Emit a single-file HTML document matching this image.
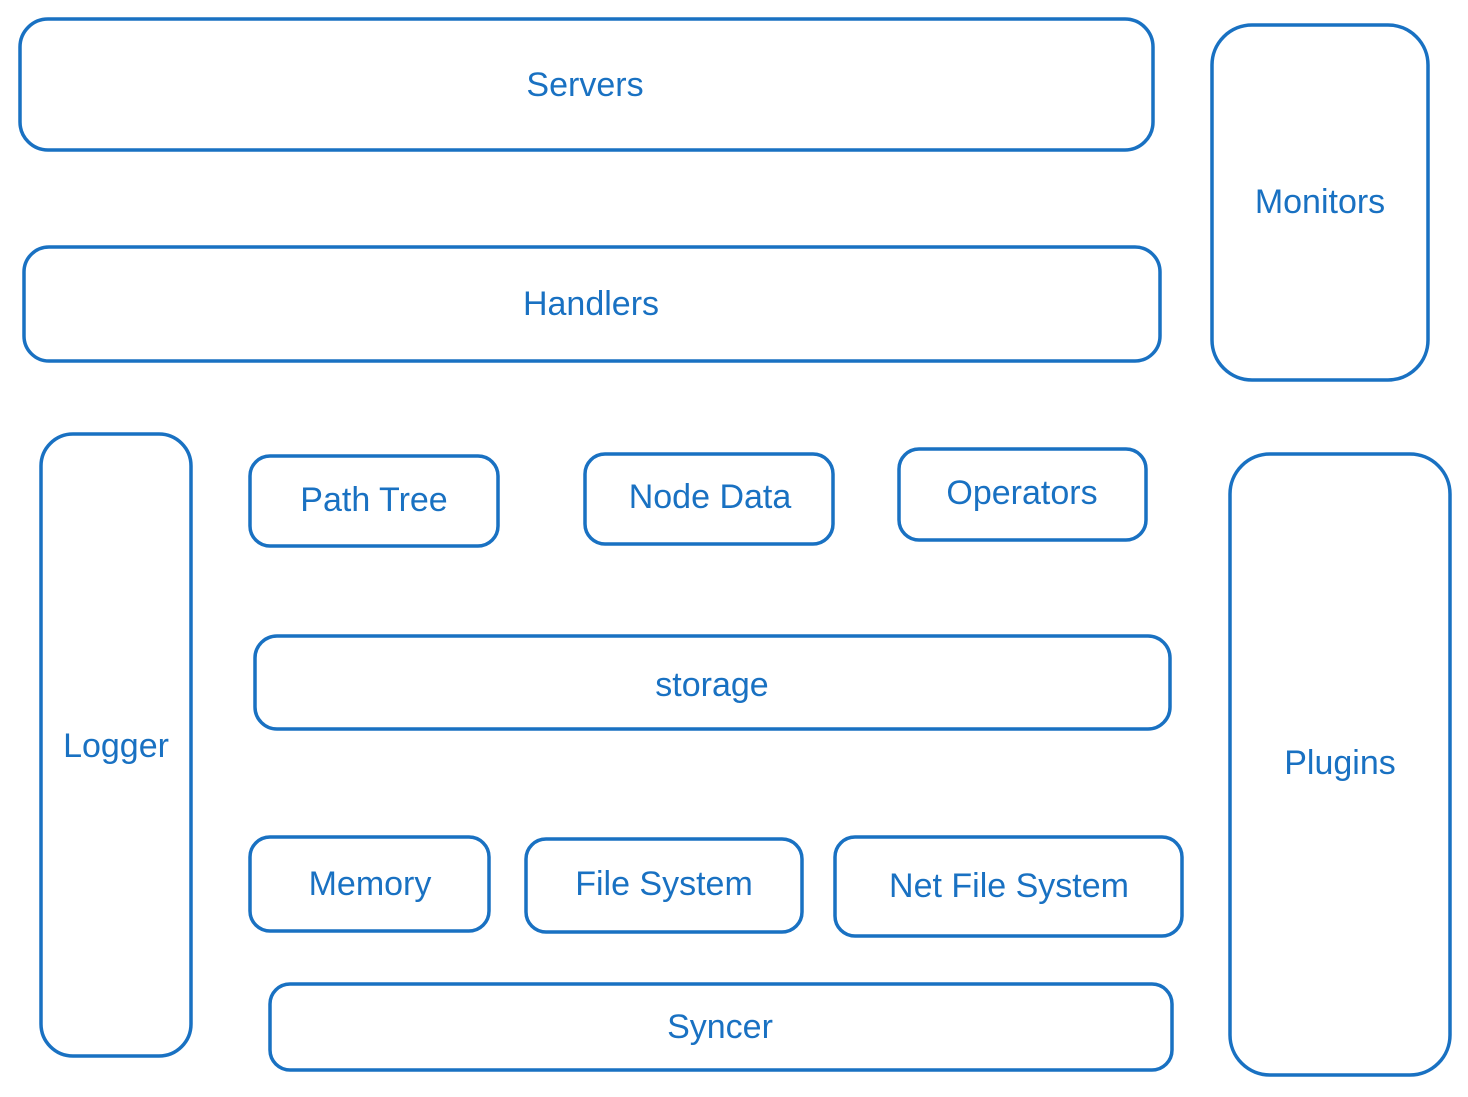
<!DOCTYPE html>
<html><head><style>
html,body{margin:0;padding:0;background:#fff}
svg text{font-family:"Liberation Sans",sans-serif;font-size:34px;fill:#1971c2;text-anchor:middle;dominant-baseline:central}
svg rect{fill:none;stroke:#1971c2;stroke-width:3.5}
</style></head><body>
<svg width="1468" height="1092" xmlns="http://www.w3.org/2000/svg">
<rect x="20" y="19" width="1133" height="131" rx="28"/>
<text x="585" y="85">Servers</text>
<rect x="1212" y="25" width="216" height="355" rx="40"/>
<text x="1320" y="202">Monitors</text>
<rect x="24" y="247" width="1136" height="114" rx="25"/>
<text x="591" y="304">Handlers</text>
<rect x="41" y="434" width="150" height="622" rx="32"/>
<text x="116" y="746">Logger</text>
<rect x="250" y="456" width="248" height="90" rx="20"/>
<text x="374" y="500">Path Tree</text>
<rect x="585" y="454" width="248" height="90" rx="20"/>
<text x="710" y="497">Node Data</text>
<rect x="899" y="449" width="247" height="91" rx="20"/>
<text x="1022" y="493">Operators</text>
<rect x="255" y="636" width="915" height="93" rx="22"/>
<text x="712" y="685">storage</text>
<rect x="1230" y="454" width="220" height="621" rx="40"/>
<text x="1340" y="763">Plugins</text>
<rect x="250" y="837" width="239" height="94" rx="20"/>
<text x="370" y="884">Memory</text>
<rect x="526" y="839" width="276" height="93" rx="20"/>
<text x="664" y="884">File System</text>
<rect x="835" y="837" width="347" height="99" rx="20"/>
<text x="1009" y="886">Net File System</text>
<rect x="270" y="984" width="902" height="86" rx="20"/>
<text x="720" y="1027">Syncer</text>
</svg>
</body></html>
